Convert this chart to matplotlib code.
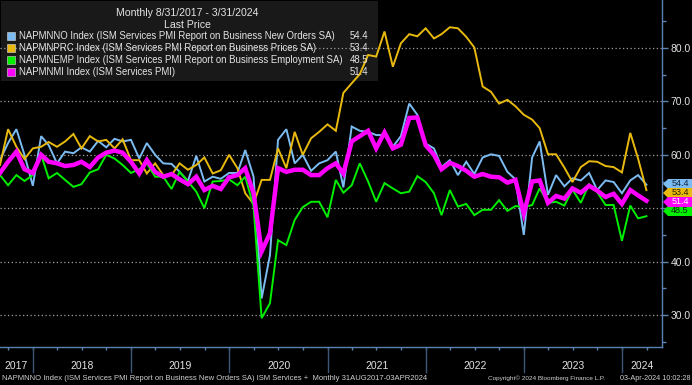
import matplotlib
matplotlib.use("Agg")
import matplotlib.pyplot as plt
import matplotlib.transforms as mtransforms
import matplotlib.dates as mdates
from matplotlib.patches import Rectangle, Polygon
import pandas as pd

plt.rcParams["font.family"] = ["Liberation Sans", "DejaVu Sans"]

# monthly values, Aug 2017 .. Mar 2024
dates = pd.date_range("2017-08-31", "2024-03-31", freq="ME")

new_orders = [59.0, 62.2, 64.8, 60.0, 54.2,
              63.5, 61.8, 58.4, 60.6, 60.3, 61.4, 60.6, 62.6, 61.4, 63.0, 62.5, 62.8,
              59.3, 62.2, 60.0, 58.4, 58.3, 56.8, 55.1, 59.8, 55.0, 55.9, 55.5, 56.6,
              56.6, 60.9, 55.9, 33.1, 41.2, 62.8, 64.8, 58.4, 60.0, 57.0, 58.4, 59.0,
              60.6, 53.9, 65.3, 64.5, 64.3, 63.7, 63.7, 61.5, 63.5, 69.6, 67.5, 62.1,
              61.2, 57.7, 59.0, 56.2, 58.7, 56.4, 59.5, 60.1, 59.8, 56.8, 55.4, 45.0,
              59.5, 62.5, 52.5, 56.2, 54.1, 55.6, 55.2, 56.6, 53.4, 55.2, 54.9, 52.8,
              55.2, 56.2, 54.4]
prices = [58.1, 64.8, 61.5, 59.2, 61.2,
          61.5, 62.4, 61.5, 62.5, 63.9, 61.2, 63.5, 62.5, 62.8, 61.2, 62.9, 59.0,
          59.0, 56.5, 58.4, 56.2, 56.2, 58.4, 57.2, 58.1, 59.5, 56.5, 57.1, 60.0,
          57.5, 52.8, 50.8, 55.3, 55.3, 61.2, 57.5, 64.3, 60.0, 63.1, 64.3, 65.7,
          64.5, 71.6, 73.4, 75.1, 78.7, 78.4, 83.1, 76.5, 80.9, 82.6, 82.2, 83.7,
          81.8, 82.6, 83.9, 83.7, 82.1, 80.1, 72.8, 71.8, 69.6, 70.3, 69.1, 67.5,
          66.6, 65.0, 60.1, 60.1, 57.6, 54.9, 57.7, 58.8, 58.7, 57.9, 57.7, 56.7,
          64.1, 59.3, 53.4]
employment = [56.2, 54.3, 56.2, 55.1, 56.2,
              60.0, 55.6, 56.6, 55.3, 54.0, 54.5, 56.7, 57.3, 60.0, 59.3, 58.1, 56.6,
              57.3, 58.4, 55.9, 55.9, 53.6, 56.8, 55.0, 53.1, 50.0, 55.0, 55.1, 55.4,
              54.3, 55.9, 50.3, 29.4, 32.2, 44.0, 43.1, 47.8, 50.2, 51.2, 51.2, 48.3,
              55.3, 52.9, 54.3, 58.4, 55.0, 51.2, 54.7, 53.7, 52.8, 53.1, 56.0, 54.9,
              52.8, 48.7, 53.4, 50.3, 50.8, 48.7, 49.7, 49.7, 51.5, 49.5, 50.4, 50.2,
              50.6, 53.7, 51.0, 51.2, 50.5, 53.5, 51.0, 54.5, 53.0, 50.6, 50.6, 43.9,
              50.5, 48.1, 48.5]
pmi = [56.6, 58.7, 60.6, 57.3, 56.6,
       60.0, 58.7, 58.4, 57.9, 58.1, 58.7, 57.7, 59.5, 60.4, 60.8, 60.4, 58.7,
       56.5, 59.0, 56.8, 55.9, 56.4, 55.4, 54.5, 55.9, 53.4, 54.2, 53.6, 55.8,
       56.2, 57.5, 52.8, 41.9, 45.3, 57.5, 56.8, 57.2, 57.2, 56.2, 56.2, 57.5,
       58.4, 56.5, 62.5, 63.5, 64.5, 61.2, 64.2, 61.2, 61.9, 66.9, 67.0, 61.8,
       60.0, 57.3, 58.5, 57.9, 57.0, 55.9, 56.4, 55.9, 55.8, 54.8, 55.3, 49.0,
       55.0, 55.2, 51.0, 52.3, 51.8, 53.7, 52.9, 54.2, 53.3, 52.1, 52.7, 50.8,
       53.4, 52.4, 51.4]

names = ["NAPMNNO Index (ISM Services PMI Report on Business New Orders SA)",
         "NAPMNPRC Index (ISM Services PMI Report on Business Prices SA)",
         "NAPMNEMP Index (ISM Services PMI Report on Business Employment SA)",
         "NAPMNMI Index (ISM Services PMI)"]
series = [new_orders, prices, employment, pmi]
colors = ["#7cbcf2", "#e8b90e", "#00f000", "#ff00ff"]
widths = [1.4, 1.4, 1.4, 3.2]
tag_text = ["#10263c", "#2a2000", "#062806", "white"]
# pixel rows of the right-hand tags (Bloomberg nudges them apart)
tag_row = [184.0, 193.0, 211.0, 202.0]

W, H = 692, 385
AX_R, AX_B = 662, 347
fig = plt.figure(figsize=(W / 100, H / 100), dpi=100, facecolor="black")
ax = fig.add_axes([0, 1 - AX_B / H, AX_R / W, AX_B / H], facecolor="black")

x0, x1 = pd.Timestamp("2017-08-31"), pd.Timestamp("2024-05-28")
ax.set_xlim(x0, x1)
ax.set_ylim(24, 89)

for v in range(30, 81, 10):
    ax.axhline(v, color="#a0a0a0", lw=0.9, ls=(0, (1, 2)), zorder=1)

for s, c, w in zip(series, colors, widths):
    ax.plot(dates, s, color=c, lw=w, zorder=3, solid_joinstyle="miter")

# axes styling
axis_col = "#5b82b0"
for sp in ["top", "left"]:
    ax.spines[sp].set_visible(False)
for sp in ["right", "bottom"]:
    ax.spines[sp].set_color(axis_col)
    ax.spines[sp].set_linewidth(1.0)
ax.yaxis.tick_right()
ax.set_yticks(range(30, 81, 10))
ax.set_yticks(range(25, 86, 10), minor=True)
# the 50.0 label sits under the value tags in the original, so it is left blank
ax.set_yticklabels(["" if v == 50 else f"{v:.1f}" for v in range(30, 81, 10)])
ax.tick_params(axis="y", which="major", length=4, width=1, color=axis_col,
               labelcolor="#e4e4e4", labelsize=7.5, pad=2)
ax.tick_params(axis="y", which="minor", length=3, width=1, color=axis_col)
ax.xaxis.set_major_locator(mdates.MonthLocator(bymonth=[1, 4, 7, 10]))
ax.tick_params(axis="x", which="major", length=2.5, width=1, color=axis_col,
               labelbottom=False)

# year separators and labels
trans = mtransforms.blended_transform_factory(ax.transData, ax.transAxes)
sep_bottom = -(372 - AX_B) / AX_B
lab_y = -(366 - AX_B) / AX_B
for yr in range(2017, 2025):
    start = max(pd.Timestamp(f"{yr}-01-01"), x0)
    end = min(pd.Timestamp(f"{yr + 1}-01-01"), x1)
    if yr > 2017:
        ax.plot([start, start], [0, sep_bottom], transform=trans, color="#3c5878",
                lw=1.0, clip_on=False)
    mid = start + (end - start) / 2
    ax.text(mid, lab_y, str(yr), transform=trans, ha="center", va="center",
            color="#e4e4e4", fontsize=7.5)

# legend box
def fx(px):
    return px / W

def fy(py):
    return 1 - py / H

ax.add_patch(Rectangle((fx(1), fy(81)), fx(377), 80 / H, transform=fig.transFigure,
                       facecolor="#1e1e1e", edgecolor="none", alpha=0.85, zorder=0.5))
fig.text(fx(187), fy(13), "Monthly 8/31/2017 - 3/31/2024", ha="center", va="center",
         color="#e4e4e4", fontsize=7.6)
fig.text(fx(187), fy(24.5), "Last Price", ha="center", va="center",
         color="#e4e4e4", fontsize=7.6)
for k, (n, c, s) in enumerate(zip(names, colors, series)):
    yy = 36 + k * 12
    fig.patches.append(Rectangle((fx(7), fy(yy + 4)), 8 / W, 8 / H,
                                 transform=fig.transFigure, facecolor=c,
                                 edgecolor="#dddddd", lw=0.4))
    fig.text(fx(19), fy(yy), n, ha="left", va="center", color="#e4e4e4", fontsize=6.9)
    fig.text(fx(368), fy(yy), f"{s[-1]:.1f}", ha="right", va="center",
             color="#e4e4e4", fontsize=6.9)

# right-hand value tags
for k in [1, 2, 3, 0]:
    yc = tag_row[k]
    pts = [(663, yc), (668, yc - 5), (692, yc - 5), (692, yc + 5), (668, yc + 5)]
    fig.patches.append(Polygon([(fx(a), fy(b)) for a, b in pts], closed=True,
                               transform=fig.transFigure, facecolor=colors[k],
                               edgecolor="none", zorder=4 + k * 0.1))
    fig.text(fx(680), fy(yc), f"{series[k][-1]:.1f}", ha="center", va="center",
             color=tag_text[k], fontsize=6.5, zorder=5 + k * 0.1)

# footer
fig.text(fx(2), fy(378.5), "NAPMNNO Index (ISM Services PMI Report on Business New Orders SA) "
         "ISM Services +  Monthly 31AUG2017-03APR2024", ha="left", va="center",
         color="#d0d0d0", fontsize=5.5)
fig.text(fx(546), fy(378.5), "Copyright\u00a9 2024 Bloomberg Finance L.P.", ha="center",
         va="center", color="#d0d0d0", fontsize=4.6)
fig.text(fx(690), fy(378.5), "03-Apr-2024 10:02:28", ha="right", va="center",
         color="#d0d0d0", fontsize=5.2)

fig.savefig("out.png", dpi=100, facecolor="black")
